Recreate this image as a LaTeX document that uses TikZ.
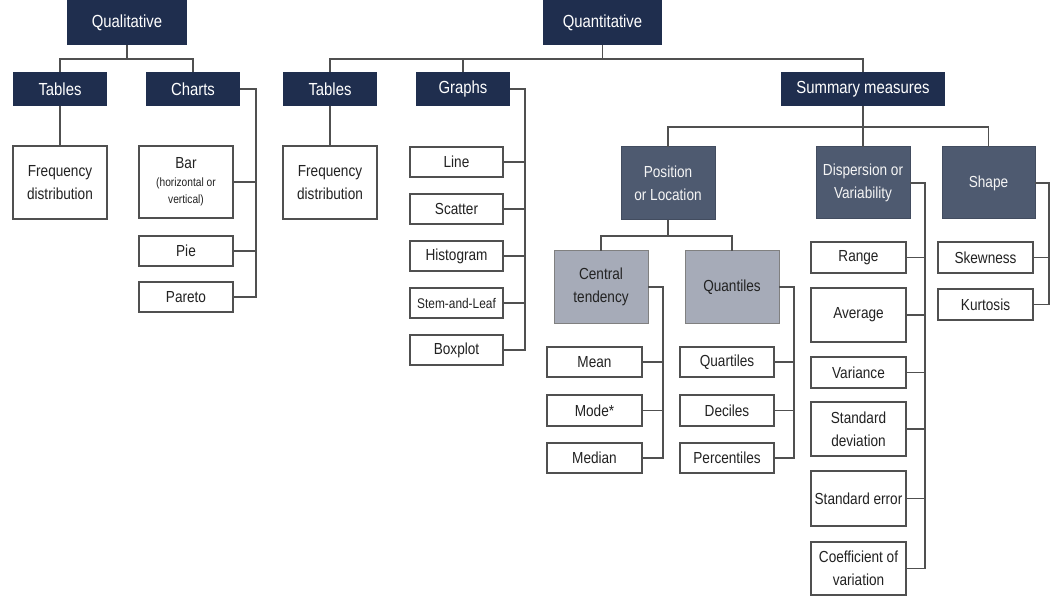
\documentclass[tikz,border=0pt]{standalone}
\usepackage{fontspec}
\setmainfont[FakeStretch=0.85]{Liberation Sans}
\definecolor{navy}{HTML}{1F2E4E}
\definecolor{slate}{HTML}{4E5A70}
\definecolor{lgray}{HTML}{A6ABB8}
\definecolor{ln}{HTML}{505050}
\definecolor{txt}{HTML}{222222}
\tikzset{
  base/.style={inner sep=0pt, outer sep=0pt, align=center, font=\fontsize{16}{23}\selectfont},
  hdr/.style={base, fill=navy, text=white, font=\fontsize{17.5}{22}\selectfont},
  mid/.style={base, fill=slate, draw=slate!85!black, line width=1pt, text=white!92!gray},
  lit/.style={base, fill=lgray, draw=gray, line width=1pt, text=txt},
  leaf/.style={base, draw=ln, line width=1.4pt, fill=white, text=txt},
  conn/.style={draw=ln, line width=1.4pt}
}
\newcommand\bx[7]{\node[#1, minimum width={(#5-#3)*1pt}, minimum height={(#6-#4)*1pt}] (#2) at ({(#3+#5)/2},{(#4+#6)/2}) {#7};}
\newcommand\smalltxt[1]{{\fontsize{12}{16}\selectfont #1}}
\begin{document}
\begin{tikzpicture}[x=1pt,y=-1pt]
\useasboundingbox (0,0) rectangle (1059,609);
% Qualitative
\bx{hdr}{qual}{67}{0}{187}{45}{Qualitative}
\bx{hdr}{qtab}{13}{72}{107}{106}{Tables}
\bx{hdr}{charts}{146}{72}{240}{106}{Charts}
\bx{leaf}{qfreq}{13}{146}{107}{219}{Frequency\\distribution}
\bx{leaf}{bar}{139}{146}{233}{218}{Bar\\[-5pt]\smalltxt{(horizontal or}\\[-6pt]\smalltxt{vertical)}}
\bx{leaf}{pie}{139}{236}{233}{266}{Pie}
\bx{leaf}{pareto}{139}{282}{233}{312}{Pareto}
% Quantitative
\bx{hdr}{quant}{543}{0}{662}{45}{Quantitative}
\bx{hdr}{ttab}{283}{72}{377}{106}{Tables}
\bx{hdr}{graphs}{416}{72}{510}{106}{Graphs}
\bx{hdr}{summ}{781}{72}{945}{106}{Summary measures}
\bx{leaf}{tfreq}{283}{146}{377}{219}{Frequency\\distribution}
\bx{leaf}{gline}{410}{147}{503}{177}{Line}
\bx{leaf}{scatter}{410}{194}{503}{224}{Scatter}
\bx{leaf}{hist}{410}{241}{503}{271}{Histogram}
\bx{leaf}{stem}{410}{288}{503}{318}{\fontsize{14}{18}\selectfont Stem-and-Leaf}
\bx{leaf}{boxp}{410}{335}{503}{365}{Boxplot}
% Summary measures children
\bx{mid}{pos}{621}{147}{715}{220}{Position\\or Location}
\bx{mid}{disp}{816}{147}{910}{219}{Dispersion or\\Variability}
\bx{mid}{shape}{942}{147}{1035}{219}{Shape}
\bx{lit}{ct}{554}{251}{648}{323}{Central\\tendency}
\bx{lit}{quan}{685}{251}{779}{323}{Quantiles}
\bx{leaf}{mean}{547}{347}{642}{377}{Mean}
\bx{leaf}{mode}{547}{395}{642}{426}{Mode*}
\bx{leaf}{median}{547}{443}{642}{473}{Median}
\bx{leaf}{quart}{680}{347}{774}{377}{Quartiles}
\bx{leaf}{dec}{680}{395}{774}{426}{Deciles}
\bx{leaf}{perc}{680}{443}{774}{473}{Percentiles}
\bx{leaf}{range}{811}{242}{906}{273}{Range}
\bx{leaf}{avg}{811}{288}{906}{342}{Average}
\bx{leaf}{var}{811}{357}{906}{388}{Variance}
\bx{leaf}{sd}{811}{402}{906}{456}{Standard\\deviation}
\bx{leaf}{se}{811}{471}{906}{526}{Standard error}
\bx{leaf}{cv}{811}{542}{906}{595}{Coefficient of\\variation}
\bx{leaf}{skew}{938}{242}{1033}{273}{Skewness}
\bx{leaf}{kurt}{938}{289}{1033}{320}{Kurtosis}
% connectors: qualitative
\draw[conn] (qual.south) -- ++(0,14) coordinate (j1);
\draw[conn] (qtab.north) |- (j1) -| (charts.north);
\draw[conn] (qtab.south) -- (qfreq.north);
\coordinate (cb) at (256,0);
\draw[conn] (charts.east) -| (cb |- pareto.east) -- (pareto.east);
\draw[conn] (bar.east) -- (cb |- bar.east);
\draw[conn] (pie.east) -- (cb |- pie.east);
% connectors: quantitative
\draw[conn] (quant.south) -- ++(0,14) coordinate (j2);
\draw[conn] (ttab.north) |- (j2) -| (summ.north);
\draw[conn] (graphs.north) -- (graphs.north |- j2);
\draw[conn] (ttab.south) -- (tfreq.north);
\coordinate (gb) at (525,0);
\draw[conn] (graphs.east) -| (gb |- boxp.east) -- (boxp.east);
\foreach \n in {gline,scatter,hist,stem} \draw[conn] (\n.east) -- (gb |- \n.east);
% summary measures
\draw[conn] (summ.south) -- ++(0,21) coordinate (j3);
\draw[conn] (pos.north) |- (j3) -| (shape.north);
\draw[conn] (disp.north) -- (disp.north |- j3);
\draw[conn] (pos.south) -- ++(0,16) coordinate (j4);
\draw[conn] (ct.north) |- (j4) -| (quan.north);
\coordinate (cb2) at (663,0);
\draw[conn] (ct.east) -| (cb2 |- median.east) -- (median.east);
\foreach \n in {mean,mode} \draw[conn] (\n.east) -- (cb2 |- \n.east);
\coordinate (qb) at (794,0);
\draw[conn] (quan.east) -| (qb |- perc.east) -- (perc.east);
\foreach \n in {quart,dec} \draw[conn] (\n.east) -- (qb |- \n.east);
\coordinate (db) at (925,0);
\draw[conn] (disp.east) -| (db |- cv.east) -- (cv.east);
\foreach \n in {range,avg,var,sd,se} \draw[conn] (\n.east) -- (db |- \n.east);
\coordinate (sb) at (1049,0);
\draw[conn] (shape.east) -| (sb |- kurt.east) -- (kurt.east);
\draw[conn] (skew.east) -- (sb |- skew.east);
\end{tikzpicture}
\end{document}
